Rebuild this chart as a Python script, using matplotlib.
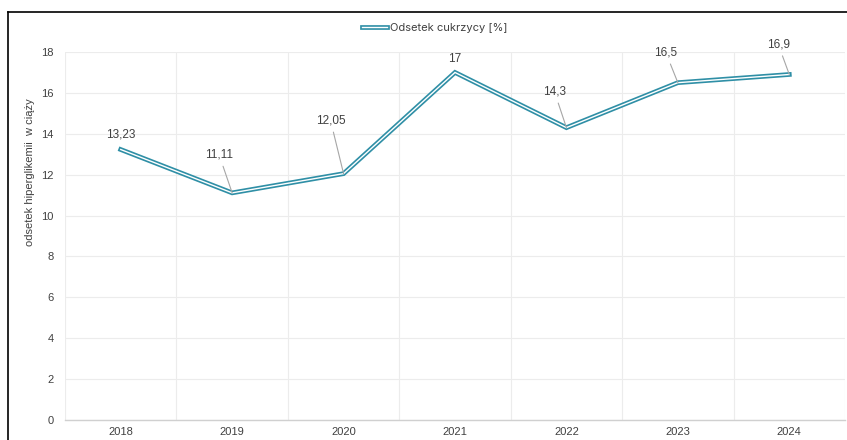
import matplotlib.pyplot as plt
from matplotlib.lines import Line2D

# data
years = ['2018', '2019', '2020', '2021', '2022', '2023', '2024']
values = [13.23, 11.11, 12.05, 17.0, 14.3, 16.5, 16.9]
labels = ['13,23', '11,11', '12,05', '17', '14,3', '16,5', '16,9']
yticks = [0, 2, 4, 6, 8, 10, 12, 14, 16, 18]

# label offsets in pixels (dx, dy) and whether a leader line is drawn
offsets = [(0, 15), (-13, 38), (-13, 53), (0, 13), (-12, 36), (-12, 30), (-11, 30)]
leaders = [False, True, True, False, True, True, True]

plt.rcParams['font.family'] = ['Liberation Sans', 'DejaVu Sans']

fig = plt.figure(figsize=(8.47, 4.4), dpi=100)
ax = fig.add_axes([65 / 847, 20 / 440, 780 / 847, 368 / 440])

x = list(range(len(years)))
teal = '#2f8fa6'
ax.plot(x, values, color=teal, lw=3.4, solid_joinstyle='miter', zorder=3)
ax.plot(x, values, color='white', lw=1.0, solid_joinstyle='miter', zorder=4)

for xi, v, lab, off, ld in zip(x, values, labels, offsets, leaders):
    arrow = dict(arrowstyle='-', color='#a6a6a6', lw=0.8, shrinkA=2, shrinkB=0) if ld else None
    ax.annotate(lab, xy=(xi, v), xytext=off, textcoords='offset pixels',
                ha='center', va='center', fontsize=8.5, color='#404040',
                arrowprops=arrow, zorder=5)

ax.set_xlim(-0.5, len(years) - 0.5)
ax.set_ylim(0, 18)
ax.set_xticks(x)
ax.set_xticklabels(years)
ax.set_yticks(yticks)
ax.tick_params(axis='both', length=0, labelsize=8, colors='#404040')
ax.tick_params(axis='x', pad=5)
ax.tick_params(axis='y', pad=8)

ax.set_xticks([i + 0.5 for i in range(-1, len(years))], minor=True)
ax.grid(axis='y', which='major', color='#ececec', lw=0.8)
ax.grid(axis='x', which='minor', color='#ececec', lw=0.8)
ax.grid(axis='x', which='major', visible=False)
ax.tick_params(which='minor', length=0)
for s in ['top', 'right', 'left']:
    ax.spines[s].set_visible(False)
ax.spines['bottom'].set_color('#d0d0d0')
ax.spines['bottom'].set_linewidth(1.0)

fig.text(30 / 847, 1 - 172 / 440, 'odsetek hiperglikemii  w ciąży', rotation=90,
         ha='center', va='center', fontsize=8, color='#404040')

# legend
h1 = Line2D([], [], color=teal, lw=3.4)
h2 = Line2D([], [], color='white', lw=1.0)
leg = fig.legend(handles=[(h1, h2)], labels=['Odsetek cukrzycy [%]'], loc='center',
                 bbox_to_anchor=(435 / 847, 1 - 28 / 440), frameon=False,
                 handlelength=2.2, handletextpad=0.3,
                 prop={'family': ['Inter', 'DejaVu Sans'], 'size': 8})
for t in leg.get_texts():
    t.set_color('#404040')

# outer border (top and left)
fig.add_artist(Line2D([8 / 847, 1], [1 - 12 / 440, 1 - 12 / 440], color='black', lw=1.2,
                      transform=fig.transFigure))
fig.add_artist(Line2D([8 / 847, 8 / 847], [0, 1 - 12 / 440], color='black', lw=1.2,
                      transform=fig.transFigure))

fig.savefig('out.png', dpi=100)
